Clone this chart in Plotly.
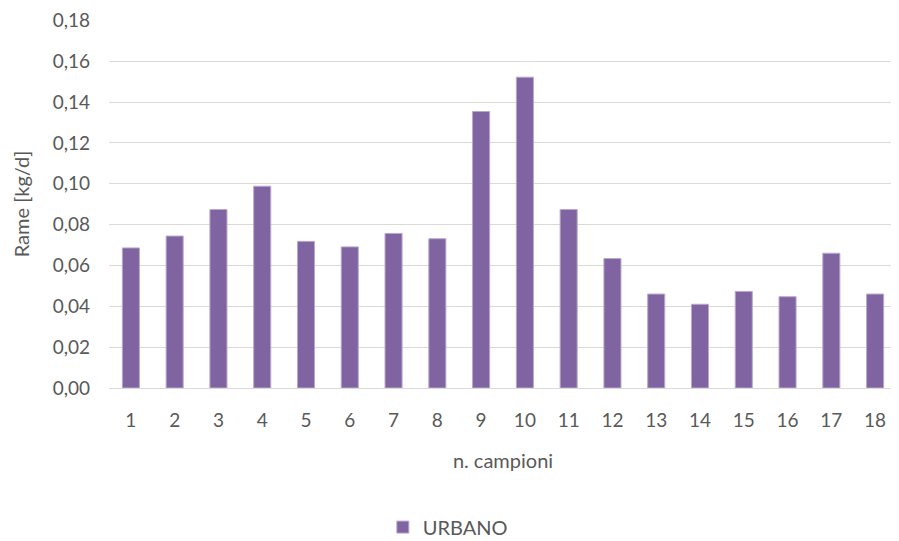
import plotly.graph_objects as go

categories = [str(i) for i in range(1, 19)]
urbano = [0.0686, 0.0744, 0.0874, 0.0988, 0.0718, 0.0691, 0.0757, 0.0731, 0.1354,
          0.1522, 0.0874, 0.0634, 0.0460, 0.0410, 0.0473, 0.0447, 0.0660, 0.0460]
y_ticks = [0.00, 0.02, 0.04, 0.06, 0.08, 0.10, 0.12, 0.14, 0.16, 0.18]

txt = "#595959"
font = "Lato, 'Open Sans', sans-serif"

fig = go.Figure()
fig.add_trace(go.Bar(
    x=categories, y=urbano, name="URBANO",
    marker=dict(color="#8064A2", line=dict(color="#B8A8CC", width=1)),
))

fig.update_layout(
    width=899, height=541,
    margin=dict(l=101, r=10, t=12, b=161, autoexpand=False),
    paper_bgcolor="white", plot_bgcolor="white",
    separators=",.",
    bargap=0.61,
    font=dict(family=font, color=txt, size=19),
    showlegend=True,
    legend=dict(orientation="h", x=0.43, xanchor="center", y=-0.378, yanchor="middle",
                font=dict(size=20, color=txt)),
    xaxis=dict(
        type="category", automargin=False,
        showgrid=False, showline=True, linecolor="#D9D9D9", linewidth=1,
        ticks="", ticklabelstandoff=15,
        tickfont=dict(size=19, color=txt),
        title=dict(text="n. campioni", font=dict(size=20, color=txt), standoff=24),
    ),
    yaxis=dict(
        range=[0, 0.1802], tickvals=y_ticks, tickformat=".2f", automargin=False,
        showgrid=True, gridcolor="#D9D9D9", gridwidth=1,
        zeroline=False, showline=False, ticks="",
        ticklabelstandoff=18,
        tickfont=dict(size=19, color=txt),
        title=dict(text="Rame [kg/d]", font=dict(size=20, color=txt), standoff=17),
    ),
)

fig.write_html("out.html")
